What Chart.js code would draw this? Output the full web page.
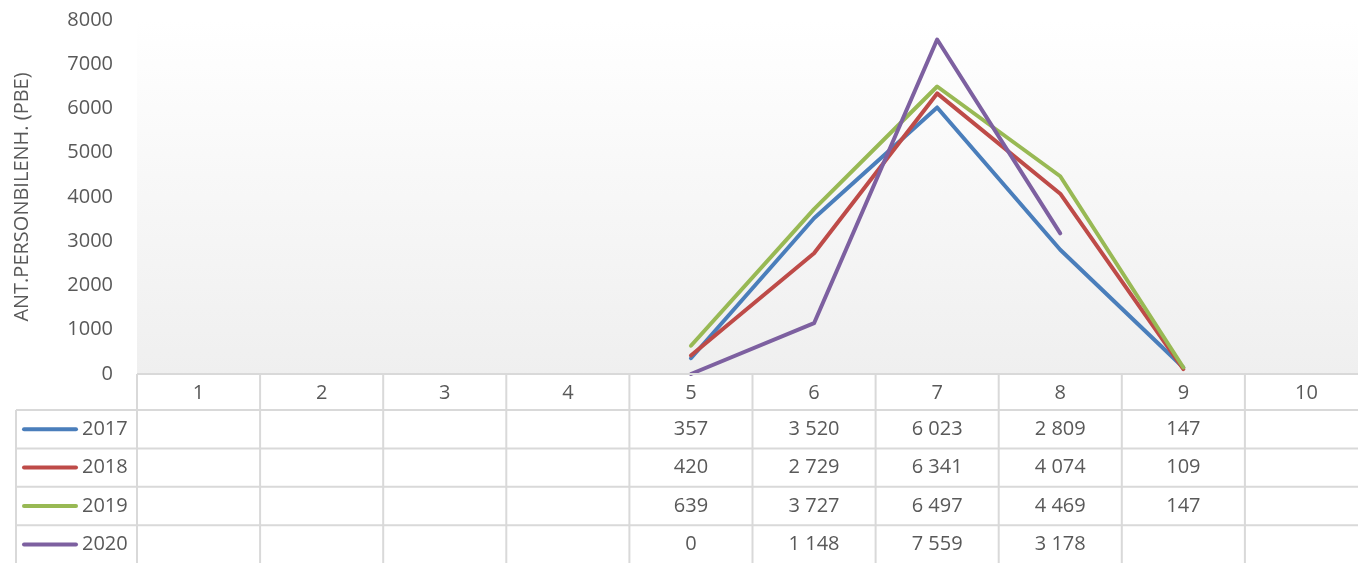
<!DOCTYPE html>
<html>
<head>
<meta charset="utf-8">
<script src="https://cdn.jsdelivr.net/npm/chart.js@4/dist/chart.umd.min.js"></script>
<style>
  html, body { margin: 0; padding: 0; background: #fff; overflow: hidden; }
  #wrap { width: 1372px; height: 563px; }
</style>
</head>
<body>
<div id="wrap"><canvas id="chart" width="1372" height="563"></canvas></div>
<script>
// data
var categories = ["1", "2", "3", "4", "5", "6", "7", "8", "9", "10"];
var seriesNames = ["2017", "2018", "2019", "2020"];
var values2017 = [null, null, null, null, 357, 3520, 6023, 2809, 147, null];
var values2018 = [null, null, null, null, 420, 2729, 6341, 4074, 109, null];
var values2019 = [null, null, null, null, 639, 3727, 6497, 4469, 147, null];
var values2020 = [null, null, null, null, 0, 1148, 7559, 3178, null, null];
var yTicks = [0, 1000, 2000, 3000, 4000, 5000, 6000, 7000, 8000];

var colors = ["#4a7ebb", "#be4b48", "#98b954", "#7d60a0"];
var allValues = [values2017, values2018, values2019, values2020];
var textColor = "#595959";
var lineGray = "#d9d9d9";
var fontFamily = "'Open Sans', 'Noto Sans', sans-serif";

function fmt(v) {
  return String(v).replace(/\B(?=(\d{3})+(?!\d))/g, " ");
}

// gradient behind the plot area
var bgPlugin = {
  id: "bg",
  beforeDraw: function (chart) {
    var a = chart.chartArea, ctx = chart.ctx;
    var g = ctx.createLinearGradient(0, a.top, 0, a.bottom);
    g.addColorStop(0, "#ffffff");
    g.addColorStop(1, "#efefef");
    ctx.save();
    ctx.fillStyle = g;
    ctx.fillRect(a.left, 0, a.right - a.left, a.bottom);
    ctx.restore();
  }
};

// data table under the plot
var tablePlugin = {
  id: "table",
  afterDraw: function (chart) {
    var ctx = chart.ctx, x = chart.scales.x, a = chart.chartArea;
    var colW = (a.right - a.left) / categories.length;
    var top = a.bottom;
    var headH = 36;
    var rowH = 38.4;
    var legLeft = 16;
    var bottom = chart.height;

    ctx.save();
    ctx.strokeStyle = lineGray;
    ctx.lineWidth = 2;
    ctx.beginPath();
    // header top line
    ctx.moveTo(a.left, top); ctx.lineTo(chart.width, top);
    // row lines
    for (var r = 0; r < seriesNames.length; r++) {
      var yy = top + headH + r * rowH;
      ctx.moveTo(legLeft, yy); ctx.lineTo(chart.width, yy);
    }
    // column lines
    for (var c = 0; c <= categories.length; c++) {
      var xx = a.left + c * colW;
      ctx.moveTo(xx, top); ctx.lineTo(xx, bottom);
    }
    ctx.moveTo(legLeft, top + headH); ctx.lineTo(legLeft, bottom);
    ctx.stroke();

    ctx.fillStyle = textColor;
    ctx.font = "20px " + fontFamily;
    ctx.textAlign = "center";
    ctx.textBaseline = "middle";
    categories.forEach(function (cat, i) {
      ctx.fillText(cat, x.getPixelForValue(i), top + headH / 2 + 1);
    });

    seriesNames.forEach(function (name, r) {
      var cy = top + headH + r * rowH + rowH / 2;
      // legend key
      ctx.strokeStyle = colors[r];
      ctx.lineWidth = 4;
      ctx.lineCap = "round";
      ctx.beginPath();
      ctx.moveTo(24, cy); ctx.lineTo(76, cy);
      ctx.stroke();
      ctx.fillStyle = textColor;
      ctx.textAlign = "left";
      ctx.fillText(name, 82, cy);
      ctx.textAlign = "center";
      allValues[r].forEach(function (v, i) {
        if (v !== null) ctx.fillText(fmt(v), x.getPixelForValue(i), cy);
      });
    });
    ctx.restore();
  }
};

var datasets = seriesNames.map(function (name, i) {
  return {
    label: name,
    data: allValues[i],
    borderColor: colors[i],
    backgroundColor: colors[i],
    borderWidth: 4,
    borderCapStyle: "round",
    borderJoinStyle: "round",
    pointRadius: 0,
    tension: 0,
    clip: false,
    order: 4 - i
  };
});

new Chart(document.getElementById("chart"), {
  type: "line",
  data: { labels: categories, datasets: datasets },
  plugins: [bgPlugin, tablePlugin],
  options: {
    responsive: false,
    animation: false,
    layout: { padding: { top: 20, bottom: 189, left: 0, right: 4 } },
    plugins: { legend: { display: false }, tooltip: { enabled: false } },
    scales: {
      x: {
        display: false,
        offset: true
      },
      y: {
        min: 0,
        max: 8000,
        afterFit: function (scale) {
          scale.width = 137;
          scale.paddingTop = 0;
          scale.paddingBottom = 0;
        },
        afterBuildTicks: function (scale) {
          scale.ticks = yTicks.map(function (v) { return { value: v }; });
        },
        grid: { display: false, drawTicks: false },
        border: { display: false },
        ticks: {
          color: textColor,
          padding: 24,
          font: { family: fontFamily, size: 20 },
          callback: function (v) { return String(v); }
        },
        title: {
          display: true,
          text: "ANT.PERSONBILENH. (PBE)",
          color: textColor,
          padding: { top: 10, bottom: 4 },
          font: { family: fontFamily, size: 20 }
        }
      }
    }
  }
});
</script>
</body>
</html>
